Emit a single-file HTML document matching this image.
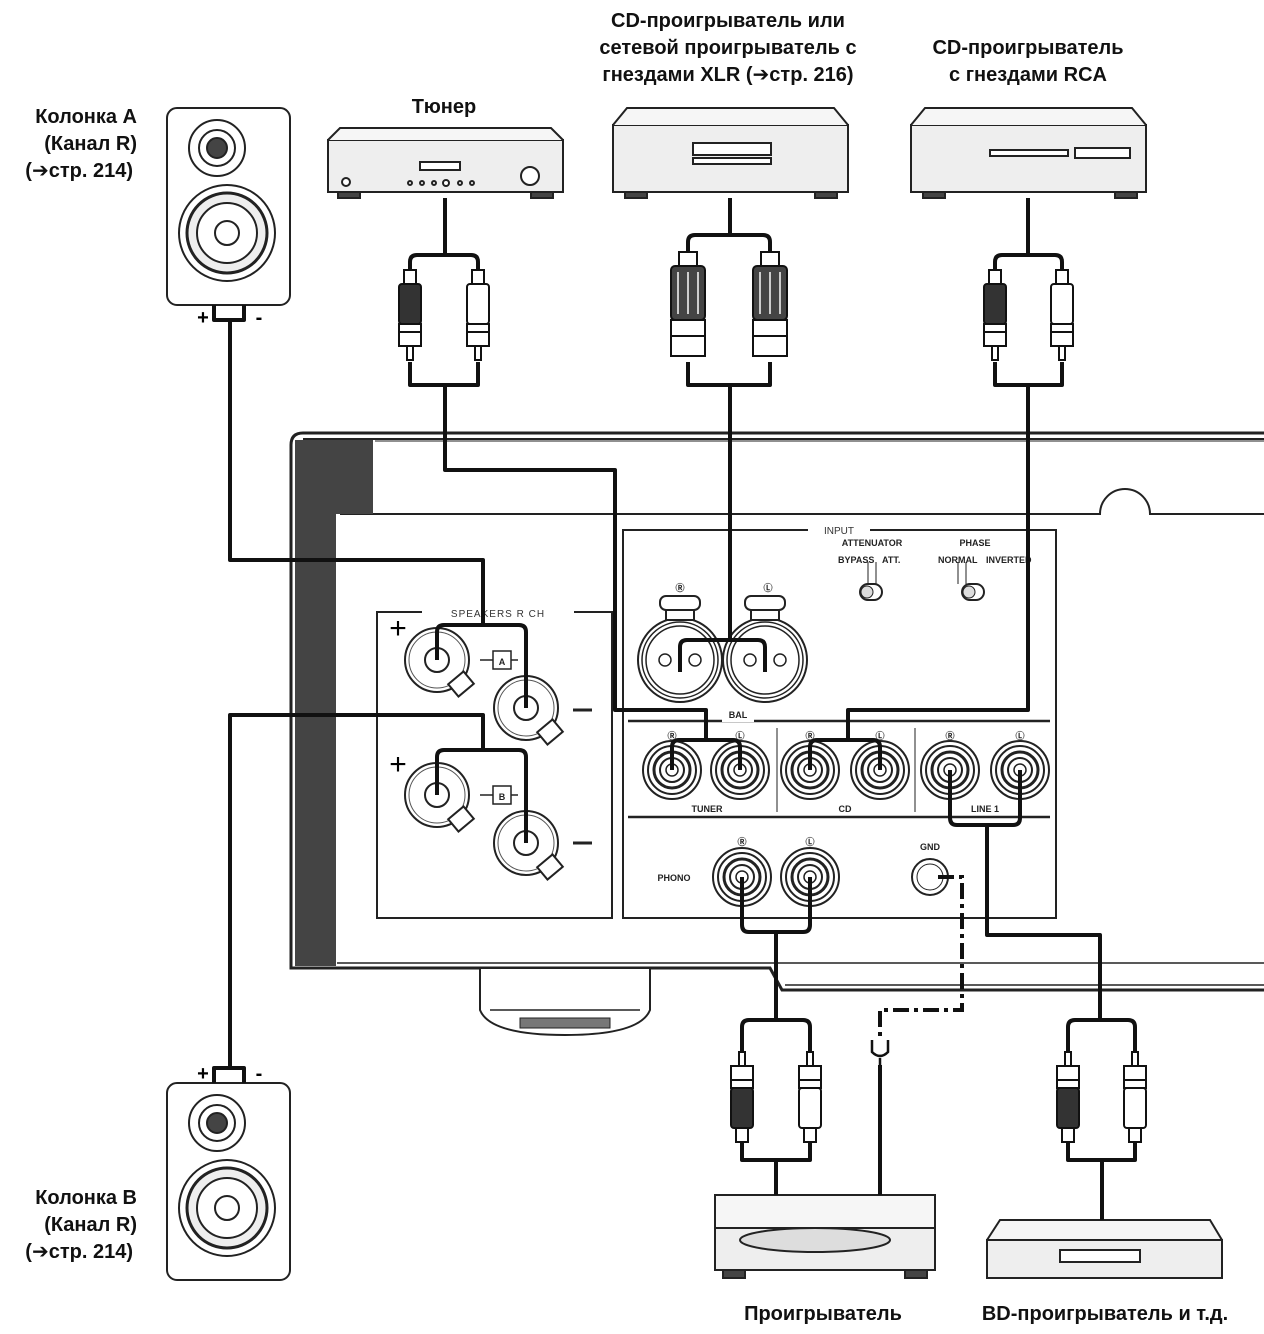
<!DOCTYPE html>
<html><head><meta charset="utf-8"><style>
html,body{margin:0;padding:0;background:#fff}
svg{display:block}
.l{font-family:"Liberation Sans","DejaVu Sans",sans-serif;font-weight:bold;font-size:20px;fill:#111}
.s{font-family:"Liberation Sans",sans-serif;font-size:10px;fill:#333}
.t{font-family:"Liberation Sans",sans-serif;font-size:9px;fill:#222;font-weight:bold}
</style></head><body>
<svg width="1264" height="1334" viewBox="0 0 1264 1334" xmlns="http://www.w3.org/2000/svg">
<defs>
<g id="rcaD">
<rect x="-6" y="0" width="12" height="14" fill="#fff" stroke="#111" stroke-width="2"/>
<rect x="-11" y="14" width="22" height="40" rx="3" fill="#333" stroke="#111" stroke-width="2"/>
<rect x="-11" y="54" width="22" height="22" fill="#fff" stroke="#111" stroke-width="2"/>
<line x1="-11" y1="62" x2="11" y2="62" stroke="#111" stroke-width="2"/>
<rect x="-3" y="76" width="6" height="14" fill="#fff" stroke="#111" stroke-width="2"/>
</g>
<g id="rcaW">
<rect x="-6" y="0" width="12" height="14" fill="#fff" stroke="#111" stroke-width="2"/>
<rect x="-11" y="14" width="22" height="40" rx="3" fill="#fff" stroke="#111" stroke-width="2"/>
<rect x="-11" y="54" width="22" height="22" fill="#fff" stroke="#111" stroke-width="2"/>
<line x1="-11" y1="62" x2="11" y2="62" stroke="#111" stroke-width="2"/>
<rect x="-3" y="76" width="6" height="14" fill="#fff" stroke="#111" stroke-width="2"/>
</g>
<g id="xlr">
<rect x="-9" y="0" width="18" height="14" fill="#fff" stroke="#111" stroke-width="2"/>
<rect x="-17" y="14" width="34" height="54" rx="4" fill="#444" stroke="#111" stroke-width="2"/>
<line x1="-10" y1="20" x2="-10" y2="62" stroke="#ccc" stroke-width="2"/>
<line x1="0" y1="20" x2="0" y2="62" stroke="#ccc" stroke-width="2"/>
<line x1="10" y1="20" x2="10" y2="62" stroke="#ccc" stroke-width="2"/>
<rect x="-17" y="68" width="34" height="36" fill="#fff" stroke="#111" stroke-width="2"/>
<line x1="-17" y1="84" x2="17" y2="84" stroke="#111" stroke-width="2"/>
</g>
<g id="jack">
<circle r="29" fill="#fff" stroke="#222" stroke-width="2"/>
<circle r="24" fill="none" stroke="#222" stroke-width="2"/>
<circle r="18" fill="none" stroke="#222" stroke-width="3"/>
<circle r="12" fill="none" stroke="#222" stroke-width="2"/>
<circle r="6" fill="none" stroke="#222" stroke-width="1.5"/>
</g>
<g id="term">
<circle r="32" fill="#fff" stroke="#222" stroke-width="2"/>
<circle r="28" fill="none" stroke="#555" stroke-width="1"/>
<circle r="12" fill="none" stroke="#222" stroke-width="2"/>
<rect x="14" y="16" width="20" height="16" transform="rotate(-40 24 24)" fill="#fff" stroke="#222" stroke-width="2"/>
</g>
<g id="xjack">
<circle r="42" fill="#fff" stroke="#222" stroke-width="2"/>
<circle r="38" fill="none" stroke="#222" stroke-width="1.5"/>
<circle r="34" fill="none" stroke="#222" stroke-width="1.5"/>
<circle cx="-15" cy="0" r="6" fill="none" stroke="#222" stroke-width="1.5"/>
<circle cx="15" cy="0" r="6" fill="none" stroke="#222" stroke-width="1.5"/>
<rect x="-20" y="-64" width="40" height="14" rx="6" fill="#fff" stroke="#222" stroke-width="2"/>
<path d="M-14 -50 h28 v10 h-28z" fill="#fff" stroke="#222" stroke-width="2"/>
</g>
<g id="spk">
<rect x="0" y="0" width="123" height="197" rx="10" fill="#fff" stroke="#222" stroke-width="2"/>
<circle cx="50" cy="40" r="28" fill="#fff" stroke="#222" stroke-width="2"/>
<circle cx="50" cy="40" r="18" fill="#fff" stroke="#222" stroke-width="2"/>
<circle cx="50" cy="40" r="10" fill="#444" stroke="#222" stroke-width="2"/>
<circle cx="60" cy="125" r="48" fill="#fff" stroke="#222" stroke-width="2"/>
<circle cx="60" cy="125" r="40" fill="#eee" stroke="#222" stroke-width="3"/>
<circle cx="60" cy="125" r="30" fill="#fff" stroke="#222" stroke-width="2"/>
<circle cx="60" cy="125" r="12" fill="#fff" stroke="#222" stroke-width="2"/>
</g>
</defs>

<text class="l" x="137" y="123" text-anchor="end">Колонка A</text>
<text class="l" x="137" y="150" text-anchor="end">(Канал R)</text>
<text class="l" x="133" y="177" text-anchor="end">(➔стр. 214)</text>
<text class="l" x="444" y="113" text-anchor="middle">Тюнер</text>
<text class="l" x="728" y="27" text-anchor="middle">CD-проигрыватель или</text>
<text class="l" x="728" y="54" text-anchor="middle">сетевой проигрыватель с</text>
<text class="l" x="728" y="81" text-anchor="middle">гнездами XLR (➔стр. 216)</text>
<text class="l" x="1028" y="54" text-anchor="middle">CD-проигрыватель</text>
<text class="l" x="1028" y="81" text-anchor="middle">с гнездами RCA</text>
<text class="l" x="137" y="1204" text-anchor="end">Колонка B</text>
<text class="l" x="137" y="1231" text-anchor="end">(Канал R)</text>
<text class="l" x="133" y="1258" text-anchor="end">(➔стр. 214)</text>
<text class="l" x="823" y="1320" text-anchor="middle">Проигрыватель</text>
<text class="l" x="1105" y="1320" text-anchor="middle">BD-проигрыватель и т.д.</text>

<g stroke="#222" fill="none">
<path d="M1264 433 H303 Q291 433 291 445 V968 H770 L782 990 H1264" stroke-width="3"/>
<line x1="303" y1="439" x2="1264" y2="439" stroke-width="2"/>
<line x1="375" y1="441" x2="1264" y2="441" stroke-width="1"/>
<path d="M340 514 H1100 A25 25 0 0 1 1150 514 H1264" stroke-width="2"/>
<line x1="337" y1="963" x2="1264" y2="963" stroke-width="1.5"/>
<line x1="785" y1="985" x2="1264" y2="985" stroke-width="1.5"/>
</g>
<path d="M295 440 H373 V514 H336 V966 H295 Z" fill="#444"/>
<path d="M480 968 H650 V1010 Q640 1035 565 1035 Q490 1035 480 1010 Z" fill="#fff" stroke="#222" stroke-width="2"/>
<line x1="490" y1="1010" x2="640" y2="1010" stroke="#222" stroke-width="1.5"/>
<rect x="520" y="1018" width="90" height="10" fill="#777" stroke="#222" stroke-width="1"/>

<rect x="377" y="612" width="235" height="306" fill="#fff" stroke="#222" stroke-width="2"/>
<rect x="422" y="604" width="152" height="16" fill="#fff"/>
<text class="s" x="498" y="617" text-anchor="middle" font-size="12" letter-spacing="1">SPEAKERS R CH</text>
<text x="398" y="638" font-size="30" font-family="Liberation Sans" text-anchor="middle">+</text>
<text x="398" y="774" font-size="30" font-family="Liberation Sans" text-anchor="middle">+</text>
<line x1="573" y1="710" x2="592" y2="710" stroke="#222" stroke-width="3"/>
<line x1="573" y1="843" x2="592" y2="843" stroke="#222" stroke-width="3"/>
<use href="#term" x="437" y="660"/><use href="#term" x="526" y="708"/>
<use href="#term" x="437" y="795"/><use href="#term" x="526" y="843"/>
<line x1="480" y1="660" x2="518" y2="660" stroke="#222" stroke-width="1.5"/>
<rect x="493" y="651" width="18" height="18" fill="#fff" stroke="#222" stroke-width="1.5"/>
<text class="t" x="502" y="665" text-anchor="middle" font-size="12">A</text>
<line x1="480" y1="795" x2="518" y2="795" stroke="#222" stroke-width="1.5"/>
<rect x="493" y="786" width="18" height="18" fill="#fff" stroke="#222" stroke-width="1.5"/>
<text class="t" x="502" y="800" text-anchor="middle" font-size="12">B</text>

<rect x="623" y="530" width="433" height="388" fill="#fff" stroke="#222" stroke-width="2"/>
<rect x="808" y="522" width="62" height="14" fill="#fff"/>
<text class="s" x="839" y="534" text-anchor="middle" font-size="12">INPUT</text>
<text class="t" x="872" y="546" text-anchor="middle">ATTENUATOR</text>
<text class="t" x="975" y="546" text-anchor="middle">PHASE</text>
<text class="t" x="838" y="563" font-size="5">BYPASS</text><text class="t" x="882" y="563" font-size="5">ATT.</text>
<text class="t" x="938" y="563" font-size="5">NORMAL</text><text class="t" x="986" y="563" font-size="5">INVERTED</text>
<path d="M868 562 v22 M876 562 v22 M958 562 v22 M966 562 v22" stroke="#222" stroke-width="1"/>
<rect x="860" y="584" width="22" height="16" rx="8" fill="#fff" stroke="#222" stroke-width="2"/>
<circle cx="867" cy="592" r="6" fill="#ddd" stroke="#222"/>
<rect x="962" y="584" width="22" height="16" rx="8" fill="#fff" stroke="#222" stroke-width="2"/>
<circle cx="969" cy="592" r="6" fill="#ddd" stroke="#222"/>
<line x1="628" y1="721" x2="1050" y2="721" stroke="#222" stroke-width="2.5"/>
<line x1="628" y1="817" x2="1050" y2="817" stroke="#222" stroke-width="2.5"/>
<line x1="777" y1="728" x2="777" y2="812" stroke="#222" stroke-width="1"/>
<line x1="915" y1="728" x2="915" y2="812" stroke="#222" stroke-width="1"/>
<rect x="722" y="708" width="32" height="14" fill="#fff"/>
<text class="t" x="738" y="718" text-anchor="middle">BAL</text>
<use href="#xjack" x="680" y="660"/><use href="#xjack" x="765" y="660"/>
<text class="t" x="680" y="591" text-anchor="middle" font-size="11">Ⓡ</text>
<text class="t" x="768" y="591" text-anchor="middle" font-size="11">Ⓛ</text>
<g>
<use href="#jack" x="672" y="770"/><use href="#jack" x="740" y="770"/>
<use href="#jack" x="810" y="770"/><use href="#jack" x="880" y="770"/>
<use href="#jack" x="950" y="770"/><use href="#jack" x="1020" y="770"/>
<use href="#jack" x="742" y="877"/><use href="#jack" x="810" y="877"/>
</g>
<g class="t" text-anchor="middle" font-size="11">
<text x="672" y="739">Ⓡ</text><text x="740" y="739">Ⓛ</text><text x="810" y="739">Ⓡ</text>
<text x="880" y="739">Ⓛ</text><text x="950" y="739">Ⓡ</text><text x="1020" y="739">Ⓛ</text>
<text x="742" y="845">Ⓡ</text><text x="810" y="845">Ⓛ</text>
</g>
<text class="t" x="707" y="812" text-anchor="middle">TUNER</text>
<text class="t" x="845" y="812" text-anchor="middle">CD</text>
<text class="t" x="985" y="812" text-anchor="middle">LINE 1</text>
<text class="t" x="674" y="881" text-anchor="middle">PHONO</text>
<text class="t" x="930" y="850" text-anchor="middle">GND</text>
<circle cx="930" cy="877" r="18" fill="#fff" stroke="#222" stroke-width="2"/>
<circle cx="930" cy="877" r="13" fill="none" stroke="#222" stroke-width="1"/>

<g stroke="#222" stroke-width="2" fill="#fff">
<rect x="328" y="140" width="235" height="52" fill="#eee"/>
<path d="M328 140 L340 128 H551 L563 140" fill="#f6f6f6"/>
<rect x="338" y="192" width="22" height="6" fill="#444"/><rect x="531" y="192" width="22" height="6" fill="#444"/>
<rect x="420" y="162" width="40" height="8"/>
<circle cx="530" cy="176" r="9"/><circle cx="346" cy="182" r="4"/>
<circle cx="410" cy="183" r="2"/><circle cx="422" cy="183" r="2"/><circle cx="434" cy="183" r="2"/><circle cx="446" cy="183" r="3"/><circle cx="460" cy="183" r="2"/><circle cx="472" cy="183" r="2"/>
<rect x="613" y="125" width="235" height="67" fill="#eee"/>
<path d="M613 125 L627 108 H834 L848 125" fill="#f6f6f6"/>
<rect x="693" y="143" width="78" height="12"/><rect x="693" y="158" width="78" height="6"/>
<rect x="625" y="192" width="22" height="6" fill="#444"/><rect x="815" y="192" width="22" height="6" fill="#444"/>
<rect x="911" y="125" width="235" height="67" fill="#eee"/>
<path d="M911 125 L925 108 H1132 L1146 125" fill="#f6f6f6"/>
<rect x="990" y="150" width="78" height="6"/><rect x="1075" y="148" width="55" height="10"/>
<rect x="923" y="192" width="22" height="6" fill="#444"/><rect x="1115" y="192" width="22" height="6" fill="#444"/>
<path d="M715 1195 H935 V1228 H715 Z" fill="#f6f6f6"/>
<path d="M715 1228 H935 V1270 H715 Z" fill="#eee"/>
<ellipse cx="815" cy="1240" rx="75" ry="12" fill="#ddd"/>
<rect x="723" y="1270" width="22" height="8" fill="#444"/><rect x="905" y="1270" width="22" height="8" fill="#444"/>
<path d="M987 1240 L1000 1220 H1210 L1222 1240" fill="#f6f6f6"/>
<rect x="987" y="1240" width="235" height="38" fill="#eee"/>
<rect x="1060" y="1250" width="80" height="12"/>
</g>
<use href="#spk" x="167" y="108"/>
<use href="#spk" x="167" y="1083"/>
<text x="203" y="324" font-size="20" font-family="Liberation Sans" font-weight="bold" text-anchor="middle">+</text>
<text x="259" y="324" font-size="20" font-family="Liberation Sans" font-weight="bold" text-anchor="middle">-</text>
<text x="203" y="1080" font-size="20" font-family="Liberation Sans" font-weight="bold" text-anchor="middle">+</text>
<text x="259" y="1080" font-size="20" font-family="Liberation Sans" font-weight="bold" text-anchor="middle">-</text>

<g stroke="#111" stroke-width="4" fill="none" stroke-linejoin="round">
<path d="M214 305 v15 h30 v-15"/>
<path d="M230 320 V560 H483 V625"/>
<path d="M437 660 V632 Q437 625 444 625 H519 Q526 625 526 632 V708"/>
<path d="M214 1083 v-15 h30 v15"/>
<path d="M230 1068 V715 H483 V750"/>
<path d="M437 795 V757 Q437 750 444 750 H519 Q526 750 526 757 V843"/>
<path d="M445 198 V255 M410 270 V262 Q410 255 417 255 H471 Q478 255 478 262 V270"/>
<path d="M410 362 V385 H478 V362 M445 385 V470 H615 V710 H706 V740"/>
<path d="M672 770 V747 Q672 740 679 740 H733 Q740 740 740 747 V770"/>
<path d="M730 198 V235 M688 252 V242 Q688 235 695 235 H763 Q770 235 770 242 V252"/>
<path d="M688 362 V385 H770 V362 M730 385 V640"/>
<path d="M680 672 V647 Q680 640 687 640 H758 Q765 640 765 647 V672"/>
<path d="M1028 198 V255 M995 270 V262 Q995 255 1002 255 H1055 Q1062 255 1062 262 V270"/>
<path d="M995 362 V385 H1062 V362 M1028 385 V710 H848 V740"/>
<path d="M810 770 V747 Q810 740 817 740 H873 Q880 740 880 747 V770"/>
<path d="M950 770 V818 Q950 825 957 825 H1013 Q1020 825 1020 818 V770 M987 825 V935 H1100 V1020"/>
<path d="M1068 1052 V1027 Q1068 1020 1075 1020 H1128 Q1135 1020 1135 1027 V1052"/>
<path d="M1068 1142 V1160 H1135 V1142 M1102 1160 V1220"/>
<path d="M742 877 V925 Q742 932 749 932 H803 Q810 932 810 925 V877 M776 932 V1020"/>
<path d="M742 1052 V1027 Q742 1020 749 1020 H803 Q810 1020 810 1027 V1052"/>
<path d="M742 1142 V1160 H810 V1142 M776 1160 V1195"/>
<path d="M880 1065 V1195"/>
</g>
<path d="M938 877 H962 V1010 H880 V1040" stroke="#111" stroke-width="4" fill="none" stroke-dasharray="16 5 4 5"/>
<path d="M872 1040 v12 q8 8 16 0 v-12 M880 1058 v8" stroke="#111" stroke-width="2.5" fill="none"/>
<g>
<use href="#rcaD" x="410" y="270"/><use href="#rcaW" x="478" y="270"/>
<use href="#xlr" x="688" y="252"/><use href="#xlr" x="770" y="252"/>
<use href="#rcaD" x="995" y="270"/><use href="#rcaW" x="1062" y="270"/>
<g transform="translate(742 1142) scale(1 -1)"><use href="#rcaD"/></g>
<g transform="translate(810 1142) scale(1 -1)"><use href="#rcaW"/></g>
<g transform="translate(1068 1142) scale(1 -1)"><use href="#rcaD"/></g>
<g transform="translate(1135 1142) scale(1 -1)"><use href="#rcaW"/></g>
</g>
</svg>
</body></html>
